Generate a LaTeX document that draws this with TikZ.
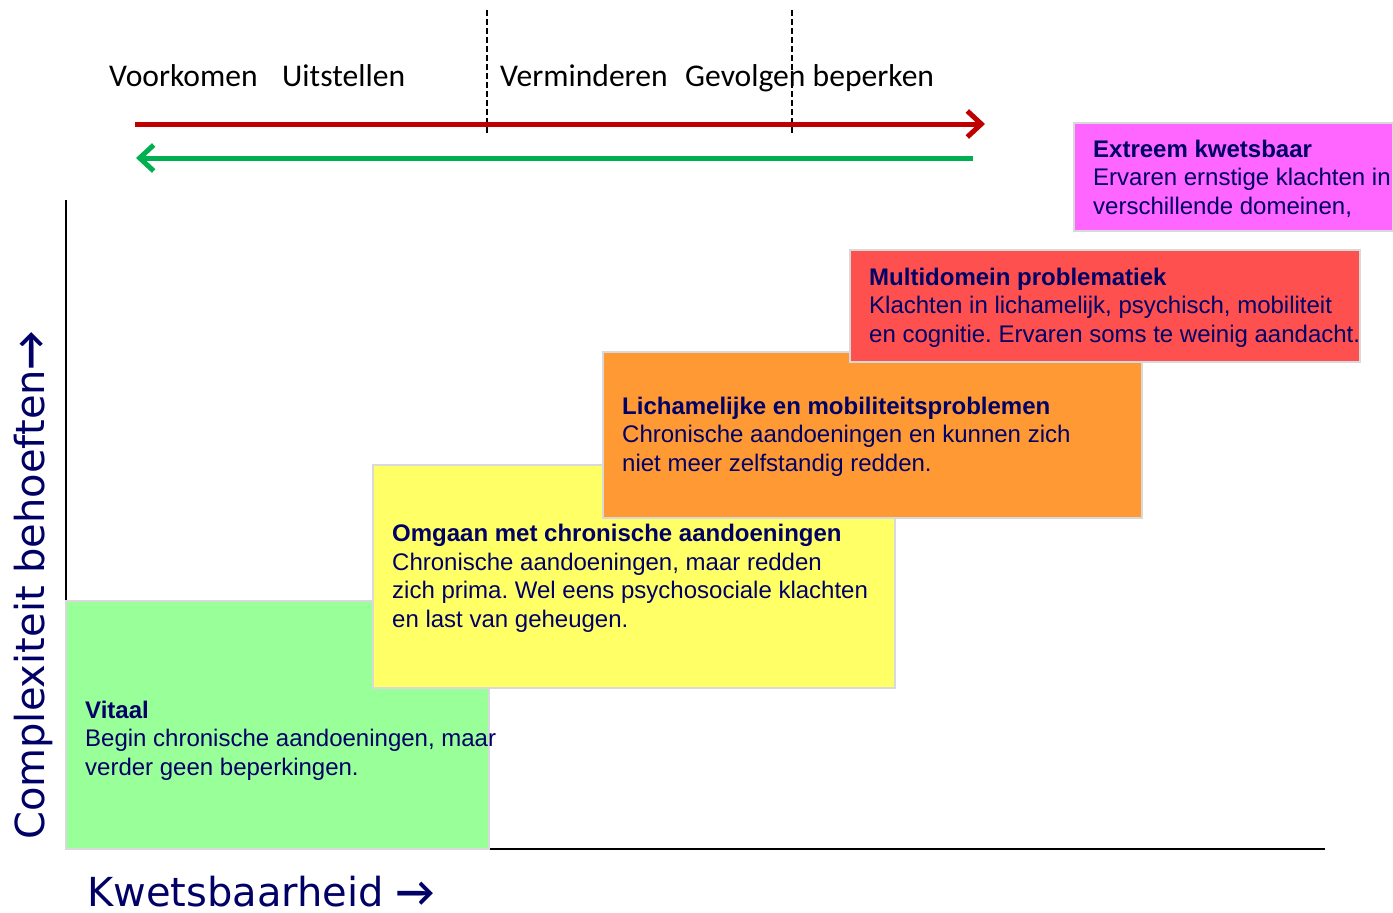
\documentclass[tikz,border=0pt]{standalone}
\usepackage{fontspec}
\setmainfont{Liberation Sans}
\newfontfamily\calibrifont{Carlito}
\newfontfamily\verdanafont{DejaVu Sans}
\frenchspacing
\usetikzlibrary{arrows.meta}
\usetikzlibrary{positioning}
\definecolor{navy}{RGB}{0,0,102}
\definecolor{vitaalgroen}{RGB}{153,255,153}
\definecolor{omgaangeel}{RGB}{255,255,102}
\definecolor{lichaamoranje}{RGB}{255,153,51}
\definecolor{multirood}{RGB}{255,80,80}
\definecolor{extreemroze}{RGB}{255,102,255}
\definecolor{pijlrood}{RGB}{192,0,0}
\definecolor{pijlgroen}{RGB}{0,176,80}
\definecolor{randgrijs}{RGB}{217,217,217}
\newcommand{\aspijl}{{\calibrifont\bfseries\fontsize{42}{44}\selectfont →}}

\begin{document}
\begin{tikzpicture}[x=1pt, y=-1pt,
  fase/.style={font=\calibrifont\fontsize{31.6}{37}\selectfont, inner sep=0, anchor=base west},
  stap/.style={draw=randgrijs, line width=1.5, inner sep=0, anchor=north west},
  uitleg/.style={text=navy, font=\fontsize{24}{28.8}\selectfont, align=left, inner sep=0, anchor=west},
  as/.style={text=navy, font=\verdanafont\fontsize{40}{48}\selectfont, inner sep=0, text depth=0pt, anchor=base west}]
\useasboundingbox (0,0) rectangle (1393,913);
\node[fase] (voorkomen) at (109,86) {Voorkomen};
\node[fase] (uitstellen) at (282,86) {Uitstellen};
\node[fase] (verminderen) at (500,86) {Verminderen};
\node[fase] (gevolgen) at (685,86) {Gevolgen beperken};
\foreach \x in {487,792} {
 \draw[black, line width=1.5, dash pattern=on 6pt off 3pt] (\x,10) -- (\x,135);
}
\coordinate (roodbegin) at (135,124);
\coordinate (roodeind) at (985,124);
\coordinate (groenbegin) at (973,158);
\coordinate (groeneind) at (136,158);
\draw[pijlrood, line width=5, -{Straight Barb[length=14pt, width=26pt]}] (roodbegin) -- (roodeind);
\draw[pijlgroen, line width=5, -{Straight Barb[length=14pt, width=26pt]}] (groenbegin) -- (groeneind);
\coordinate (ytop) at (66,200);
\coordinate (oorsprong) at (66,849);
\coordinate (xeind) at (1325,849);
\draw[black, line width=2] (ytop) -- (oorsprong) -- (xeind);
\node[stap, fill=vitaalgroen, minimum width=423, minimum height=248] (vitaal) at (65,600) {};
\node[uitleg] (vitaaltekst) at ([xshift=20, yshift=-16]vitaal.west) {\textbf{Vitaal}\\Begin chronische aandoeningen, maar\\verder geen beperkingen.};
\node[stap, fill=omgaangeel, minimum width=522, minimum height=223] (omgaan) at (372,464) {};
\node[uitleg] (omgaantekst) at ([xshift=20, yshift=-2]omgaan.west) {\textbf{Omgaan met chronische aandoeningen}\\Chronische aandoeningen, maar redden\\zich prima. Wel eens psychosociale klachten\\en last van geheugen.};
\node[stap, fill=lichaamoranje, minimum width=539, minimum height=166] (lichaam) at (602,351) {};
\node[uitleg] (lichaamtekst) at ([xshift=20, yshift=-2]lichaam.west) {\textbf{Lichamelijke en mobiliteitsproblemen}\\Chronische aandoeningen en kunnen zich\\niet meer zelfstandig redden.};
\node[stap, fill=multirood, minimum width=510, minimum height=112] (multi) at (849,249) {};
\node[uitleg] (multitekst) at ([xshift=20, yshift=-2]multi.west) {\textbf{Multidomein problematiek}\\Klachten in lichamelijk, psychisch, mobiliteit\\en cognitie. Ervaren soms te weinig aandacht.};
\node[stap, fill=extreemroze, minimum width=319, minimum height=108] (extreem) at (1073,122) {};
\node[uitleg] (extreemtekst) at ([xshift=20, yshift=-2]extreem.west) {\textbf{Extreem kwetsbaar}\\Ervaren ernstige klachten in\\verschillende domeinen,};
\node[as] (kwetsbaarheid) at (87,906) {Kwetsbaarheid \aspijl};
\node[as, rotate=90] (complexiteit) at (45,840) {Complexiteit behoeften\aspijl};
\end{tikzpicture}
\end{document}
